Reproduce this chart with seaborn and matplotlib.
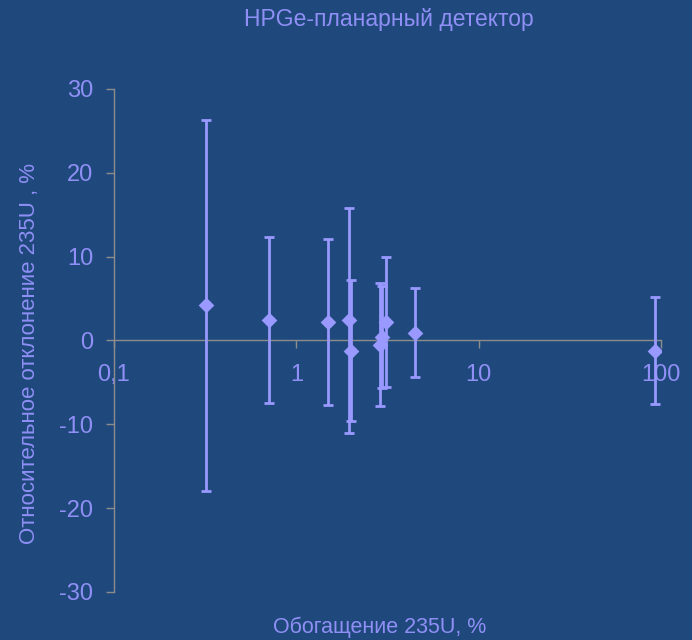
import numpy as np
import pandas as pd
import matplotlib
matplotlib.use("Agg")
import matplotlib.pyplot as plt
import seaborn as sns

# --- Data ---
enrichment = [0.32, 0.71, 1.5, 1.94, 2.0, 2.86, 2.95, 3.12, 4.5, 93.0]
deviation = [4.2, 2.5, 2.2, 2.4, -1.2, -0.5, 0.4, 2.2, 0.9, -1.2]
error = [22.1, 9.9, 9.9, 13.4, 8.4, 7.3, 6.1, 7.7, 5.3, 6.4]

x_ticks = [0.1, 1, 10, 100]
x_tick_labels = ["0,1", "1", "10", "100"]
y_ticks = [-30, -20, -10, 0, 10, 20, 30]

title = "HPGe-планарный детектор"
x_label = "Обогащение 235U, %"
y_label = "Относительное отклонение 235U , %"

bg = "#1F497D"
mark = "#9999FF"
txt = "#8F8FF5"
grey = "#8C8C8C"

df = pd.DataFrame({"enrich": enrichment, "dev": deviation, "err": error})

sns.set_style("white")
plt.rcParams["font.family"] = ["Liberation Sans", "DejaVu Sans"]
plt.rcParams["axes.unicode_minus"] = False

fig = plt.figure(figsize=(6.92, 6.40), dpi=100, facecolor=bg)
ax = fig.add_axes([0.1647, 0.075, 0.7905, 0.786])
ax.set_facecolor(bg)

ax.errorbar(df["enrich"], df["dev"], yerr=df["err"], fmt="none",
            ecolor=mark, elinewidth=2.0, capsize=3.5, capthick=2.0, zorder=2)
sns.scatterplot(data=df, x="enrich", y="dev", marker="D", s=64,
                color=mark, edgecolor=mark, linewidth=0, ax=ax, zorder=3)

ax.set_xscale("log")
ax.set_xlim(0.1, 100)
ax.set_ylim(-30, 30)
ax.set_xticks(x_ticks)
ax.set_xticklabels(x_tick_labels)
ax.xaxis.set_minor_locator(matplotlib.ticker.NullLocator())
ax.set_yticks(y_ticks)

for s in ["top", "right"]:
    ax.spines[s].set_visible(False)
ax.spines["bottom"].set_position(("data", 0))
for s in ["left", "bottom"]:
    ax.spines[s].set_color(grey)
    ax.spines[s].set_linewidth(1.0)
    ax.spines[s].set_zorder(1)

ax.tick_params(axis="both", colors=grey, labelcolor=txt, labelsize=17,
               length=6, width=1.0, direction="out", left=True, bottom=True)
ax.tick_params(axis="x", pad=11)
ax.tick_params(axis="y", pad=9)

ax.set_xlabel("")
ax.set_ylabel("")
fig.text(0.562, 0.969, title, ha="center", va="center", color=txt, fontsize=16.5)
fig.text(0.548, 0.019, x_label, ha="center", va="center", color=txt, fontsize=15.5)
fig.text(0.043, 0.447, y_label, ha="center", va="center", rotation=90,
         color=txt, fontsize=16)

fig.savefig("out.png", dpi=100, facecolor=bg)
